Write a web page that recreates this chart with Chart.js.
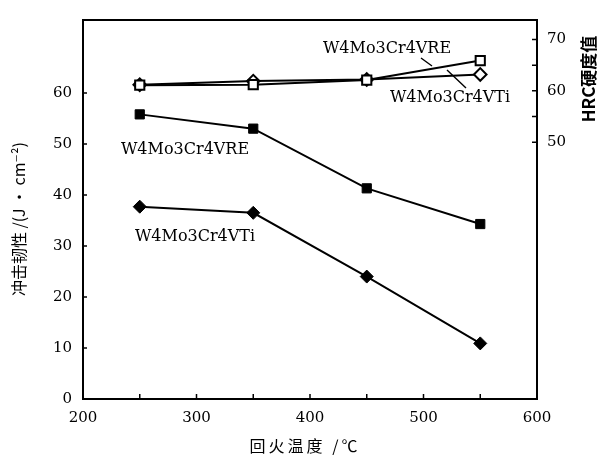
<!DOCTYPE html>
<html><head><meta charset="utf-8">
<script src="https://cdn.jsdelivr.net/npm/chart.js@4/dist/chart.umd.min.js"></script>
<style>html,body{margin:0;padding:0;background:#fff;}#wrap{width:602px;height:456px;}</style>
</head><body><div id="wrap"><canvas id="c" width="602" height="456"></canvas></div>
<script>
// ---- data ----
const temperatures = [250, 350, 450, 550];
const impactVRE = [55.8, 53.0, 41.3, 34.3];
const impactVTi = [37.7, 36.5, 24.0, 10.9];
const hardnessVRE = [61.1, 61.2, 62.1, 65.9];
const hardnessVTi = [61.2, 61.9, 62.2, 63.2];
const xTicks = [200, 250, 300, 350, 400, 450, 500, 550, 600];
const xLabels = [200, 300, 400, 500, 600];
const leftTicks = [0, 10, 20, 30, 40, 50, 60];
const rightTicks = [50, 55, 60, 65, 70];
const rightLabels = [50, 60, 70];
const seriesNames = ['W4Mo3Cr4VRE', 'W4Mo3Cr4VTi'];
const xTitle = '回火温度 /℃';
const yTitle = '冲击韧性 /(J · cm⁻²)';
const y2Title = 'HRC硬度值';

const pts = (arr) => temperatures.map((t, i) => ({x: t, y: arr[i]}));
const tickFont = {family: 'DejaVu Serif', size: 15};

const decor = {
  id: 'decor',
  afterDraw(chart) {
    const ctx = chart.ctx, a = chart.chartArea;
    const sx = chart.scales.x, sy = chart.scales.y, sy2 = chart.scales.y2;
    ctx.save();
    ctx.strokeStyle = '#000';
    ctx.fillStyle = '#000';
    // frame
    ctx.lineWidth = 2;
    ctx.strokeRect(a.left, a.top, a.right - a.left, a.bottom - a.top);
    // inward ticks
    ctx.lineWidth = 1.5;
    ctx.beginPath();
    xTicks.forEach(v => { const p = sx.getPixelForValue(v); ctx.moveTo(p, a.bottom); ctx.lineTo(p, a.bottom - 5); });
    leftTicks.forEach(v => { const p = sy.getPixelForValue(v); ctx.moveTo(a.left, p); ctx.lineTo(a.left + 4, p); });
    rightTicks.forEach(v => { const p = sy2.getPixelForValue(v); ctx.moveTo(a.right, p); ctx.lineTo(a.right - 5, p); });
    ctx.stroke();
    // annotations
    ctx.font = '16px "DejaVu Serif"';
    ctx.textAlign = 'center';
    ctx.textBaseline = 'middle';
    ctx.fillText(seriesNames[0], 387, 49);
    ctx.fillText(seriesNames[1], 450, 98);
    ctx.fillText(seriesNames[0], 185, 150);
    ctx.fillText(seriesNames[1], 195, 237);
    ctx.lineWidth = 1.4;
    ctx.beginPath();
    ctx.moveTo(421, 58); ctx.lineTo(432, 66);
    ctx.moveTo(447, 70); ctx.lineTo(466, 88);
    ctx.stroke();
    // axis titles
    ctx.font = '16px "Noto Sans CJK SC", "DejaVu Serif"';
    ctx.letterSpacing = '3px';
    ctx.fillText(xTitle, 305, 446);
    ctx.letterSpacing = '0px';
    ctx.save();
    ctx.translate(19, 219);
    ctx.rotate(-Math.PI / 2);
    ctx.font = '16px "Noto Sans CJK SC", "DejaVu Serif"';
    ctx.fillText(yTitle, 0, 0);
    ctx.restore();
    ctx.save();
    ctx.translate(589, 79);
    ctx.rotate(-Math.PI / 2);
    ctx.font = 'bold 17px "Noto Sans CJK SC", "DejaVu Serif"';
    ctx.fillText(y2Title, 0, 0);
    ctx.restore();
    ctx.restore();
  }
};

new Chart(document.getElementById('c'), {
  type: 'line',
  data: {
    datasets: [
      {data: pts(impactVRE), yAxisID: 'y', pointStyle: 'rect', pointRadius: 6.5, backgroundColor: '#000', borderColor: '#000', borderWidth: 2, pointBorderWidth: 1},
      {data: pts(impactVTi), yAxisID: 'y', pointStyle: 'rectRot', pointRadius: 6.5, backgroundColor: '#000', borderColor: '#000', borderWidth: 2, pointBorderWidth: 1},
      {data: pts(hardnessVRE), yAxisID: 'y2', pointStyle: 'rect', pointRadius: 6.5, backgroundColor: '#fff', borderColor: '#000', borderWidth: 2, pointBorderWidth: 2},
      {data: pts(hardnessVTi), yAxisID: 'y2', pointStyle: 'rectRot', pointRadius: 6.3, backgroundColor: '#fff', borderColor: '#000', borderWidth: 2, pointBorderWidth: 2}
    ]
  },
  options: {
    responsive: false,
    animation: false,
    devicePixelRatio: 1,
    layout: {padding: {top: 15, left: 0, right: 0, bottom: 0}},
    plugins: {legend: {display: false}, tooltip: {enabled: false}, title: {display: false}},
    elements: {line: {tension: 0}},
    scales: {
      x: {
        type: 'linear', position: 'bottom', min: 200, max: 600,
        afterBuildTicks: ax => { ax.ticks = xTicks.map(v => ({value: v})); },
        ticks: {font: tickFont, color: '#000', padding: 10, maxRotation: 0, autoSkip: false,
          callback: v => xLabels.includes(v) ? String(v) : ''},
        grid: {display: false, drawTicks: false}, border: {display: false},
        afterFit: ax => { ax.height = 57; }
      },
      y: {
        type: 'linear', position: 'left', min: 0, max: 74.3,
        afterBuildTicks: ax => { ax.ticks = leftTicks.map(v => ({value: v})); },
        ticks: {font: tickFont, color: '#000', padding: 11, autoSkip: false},
        grid: {display: false, drawTicks: false}, border: {display: false},
        afterFit: ax => { ax.width = 83; }
      },
      y2: {
        type: 'linear', position: 'right', min: 0, max: 73.8,
        afterBuildTicks: ax => { ax.ticks = rightTicks.map(v => ({value: v})); },
        ticks: {font: tickFont, color: '#000', padding: 10, autoSkip: false,
          callback: v => rightLabels.includes(v) ? String(v) : ''},
        grid: {display: false, drawTicks: false}, border: {display: false},
        afterFit: ax => { ax.width = 65; }
      }
    }
  },
  plugins: [decor]
});
</script></body></html>
